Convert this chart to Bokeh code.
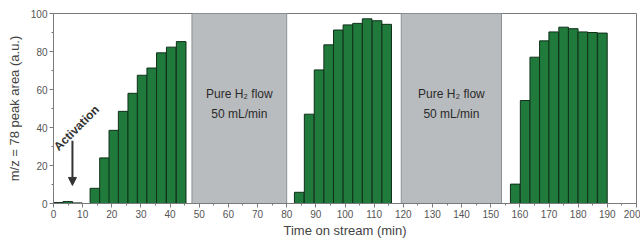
import math
from bokeh.plotting import figure
from bokeh.models import (SingleIntervalTicker, Label, Arrow, NormalHead, Range1d)
from bokeh.embed import file_html
from bokeh.resources import INLINE

# ---- data ----
time_min = [1.7, 4.9, 8.2,
            14.2, 17.5, 20.7, 23.9, 27.2, 30.4, 33.7, 37.0, 40.4, 43.8,
            84.3, 87.7, 91.1, 94.4, 97.7, 101.0, 104.3, 107.6, 111.0, 114.3,
            158.4, 161.8, 165.1, 168.4, 171.6, 175.0, 178.3, 181.6, 184.9, 188.3]
peak_area = [0.5, 1.0, 0.3,
             8.0, 24.0, 38.5, 48.5, 58.0, 67.5, 71.3, 79.3, 82.3, 85.2,
             5.9, 47.0, 70.3, 83.5, 91.3, 94.0, 94.8, 97.2, 96.2, 94.3,
             10.2, 54.2, 77.0, 85.6, 90.3, 92.8, 92.0, 90.3, 90.0, 89.7]
bar_width_min = 3.3

h2_start = [47.5, 119.3]
h2_end = [80.0, 153.7]
h2_label_1 = "Pure H\u2082 flow"
h2_label_2 = "50 mL/min"

activation_time = 6.5
x_ticks_step = 10
y_ticks_step = 20

FONT = "Liberation Sans"

p = figure(width=640, height=240, output_backend="svg", toolbar_location=None,
           x_range=Range1d(0, 200), y_range=Range1d(0, 100),
           min_border_left=53, min_border_right=4, min_border_top=13,
           min_border_bottom=33)
p.xgrid.visible = False
p.ygrid.visible = False
p.outline_line_color = "#7a7a7a"
p.outline_line_width = 1
p.background_fill_color = "white"

# H2 flow periods
p.quad(left=h2_start, right=h2_end, bottom=[0, 0], top=[100, 100],
       fill_color="#b9bcbf", line_color="#8d9093", line_width=1)

# bars
p.vbar(x=time_min, top=peak_area, width=bar_width_min,
       fill_color="#1f7a3c", line_color="#10301a", line_width=1)

# H2 labels
for s, e in zip(h2_start, h2_end):
    c = (s + e) / 2
    p.add_layout(Label(x=c, y=57.5, text=h2_label_1, text_align="center",
                       text_baseline="middle", text_font=FONT,
                       text_font_size="12px", text_color="#2a2a2a"))
    p.add_layout(Label(x=c, y=47.0, text=h2_label_2, text_align="center",
                       text_baseline="middle", text_font=FONT,
                       text_font_size="12px", text_color="#2a2a2a"))

# Activation annotation
p.add_layout(Label(x=7.9, y=39.7, text="Activation", angle=math.pi / 4,
                   text_align="center", text_baseline="middle",
                   text_font=FONT, text_font_size="12px",
                   text_font_style="bold", text_color="#333333"))
p.add_layout(Arrow(x_start=activation_time, y_start=33, x_end=activation_time, y_end=9.5,
                   line_color="#333333", line_width=2,
                   end=NormalHead(size=8, fill_color="#333333", line_color="#333333")))

# axes
for ax, step in ((p.xaxis, x_ticks_step), (p.yaxis, y_ticks_step)):
    ax.ticker = SingleIntervalTicker(interval=step, num_minor_ticks=2)
    ax.axis_line_color = "#7a7a7a"
    ax.major_tick_line_color = "#7a7a7a"
    ax.minor_tick_line_color = "#7a7a7a"
    ax.major_tick_in = 0
    ax.major_tick_out = 4
    ax.minor_tick_in = 0
    ax.minor_tick_out = 2
    ax.major_label_text_font = FONT
    ax.major_label_text_font_size = "10px"
    ax.major_label_text_color = "#555555"
    ax.axis_label_text_font = FONT
    ax.axis_label_text_font_style = "normal"
    ax.axis_label_text_color = "#444444"
p.xaxis.major_label_standoff = 2
p.yaxis.major_label_standoff = 2
p.xaxis.axis_label = "Time on stream (min)"
p.xaxis.axis_label_text_font_size = "13px"
p.xaxis.axis_label_standoff = 2
p.yaxis.axis_label = "m/z = 78 peak area (a.u.)"
p.yaxis.axis_label_text_font_size = "13px"
p.yaxis.axis_label_standoff = 6

open("out.html", "w").write(file_html(p, INLINE))
